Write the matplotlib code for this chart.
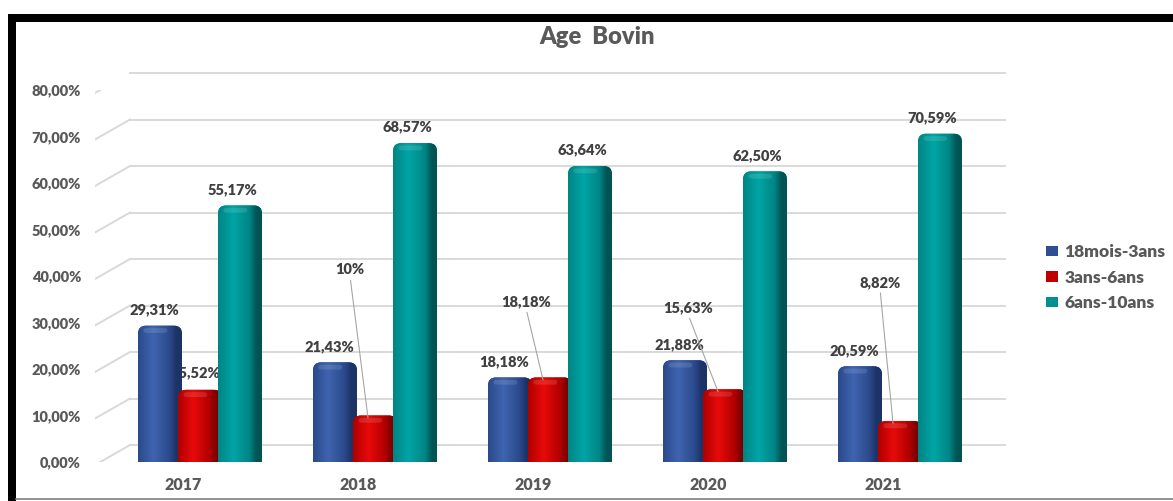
import numpy as np
import matplotlib
matplotlib.use("Agg")
import matplotlib.pyplot as plt
import matplotlib.transforms as mtransforms
from matplotlib.patches import FancyBboxPatch, Patch, Rectangle
from matplotlib.colors import LinearSegmentedColormap

plt.rcParams['font.family'] = ['Lato', 'DejaVu Sans']

# data
years = ["2017", "2018", "2019", "2020", "2021"]
series = ["18mois-3ans", "3ans-6ans", "6ans-10ans"]
age_18m_3 = [29.31, 21.43, 18.18, 21.88, 20.59]
age_3_6 = [15.52, 10.0, 18.18, 15.63, 8.82]
age_6_10 = [55.17, 68.57, 63.64, 62.50, 70.59]
labels_18m_3 = ["29,31%", "21,43%", "18,18%", "21,88%", "20,59%"]
labels_3_6 = ["15,52%", "10%", "18,18%", "15,63%", "8,82%"]
labels_6_10 = ["55,17%", "68,57%", "63,64%", "62,50%", "70,59%"]
yticks = [0, 10, 20, 30, 40, 50, 60, 70, 80]

# colours: (edge, highlight, dark side)
shades = [("#2b4a8c", "#3f64b0", "#1c3366"),
          ("#b00000", "#e80a0a", "#7a0000"),
          ("#008585", "#00a5a5", "#005454")]
legend_cols = ["#2f4f93", "#c00000", "#009090"]
WEIGHT = "heavy"

W, H = 1173, 501
fig = plt.figure(figsize=(W / 100, H / 100), dpi=100)
fig.patch.set_facecolor("white")

# axes placed in pixels: data 0 at y=462, 80 at y=90
ax_l, ax_r, ax_b, ax_t = 95, 1005, 462, 90
ax = fig.add_axes([ax_l / W, (H - ax_b) / H, (ax_r - ax_l) / W, (ax_b - ax_t) / H])
ax.set_xlim(-0.6, 4.6)
ax.set_ylim(0, 80)
for s in ax.spines.values():
    s.set_visible(False)
ax.set_xticks([])
ax.set_yticks(yticks)
ax.set_yticklabels([f"{v},00%" for v in yticks])
ax.tick_params(axis="y", length=0, pad=10, labelsize=10.5, labelcolor="#595959")
for lbl in ax.get_yticklabels():
    lbl.set_fontweight(WEIGHT)

# pseudo-3D gridlines (back wall + slanted floor edge)
depth_x = 35 / (ax_r - ax_l)
back = mtransforms.offset_copy(ax.get_yaxis_transform(), fig=fig, x=0, y=17, units="dots")
front = mtransforms.offset_copy(ax.get_yaxis_transform(), fig=fig, x=0, y=-3, units="dots")
for v in yticks:
    ax.plot([depth_x, 1.0], [v, v], transform=back, color="#d9d9d9", lw=1.4,
            clip_on=False, zorder=0.5)
    p0 = front.transform((0, v))
    p1 = back.transform((depth_x, v))
    ax.add_line(plt.Line2D([p0[0], p1[0]], [p0[1], p1[1]], transform=None,
                           color="#d9d9d9", lw=1.4, zorder=0.5))

x = np.arange(len(years))
bar_w = 44 / 175
step = 40 / 175
offsets = [-step, 0, step]
values = [age_18m_3, age_3_6, age_6_10]

grad_pos = [0.0, 0.35, 0.72, 0.88, 1.0]
px_per_x = 175.0
px_per_y = (ax_b - ax_t) / 80.0
rx = 8 / px_per_x
ry = 8 / px_per_y

for si, (vals, off) in enumerate(zip(values, offsets)):
    edge, hi, dark = shades[si]
    cmap = LinearSegmentedColormap.from_list(
        f"g{si}", list(zip(grad_pos, [edge, hi, edge, dark, dark])))
    grad = np.linspace(0, 1, 64).reshape(1, -1)
    bars = ax.bar(x + off, vals, width=bar_w, color="none", zorder=2 + si)
    for b in bars:
        bx, bh = b.get_x(), b.get_height()
        patch = FancyBboxPatch((bx, -3), bar_w, bh + 3,
                               boxstyle=f"round,pad=0,rounding_size={rx}",
                               mutation_aspect=ry / rx,
                               facecolor=edge, edgecolor="none", zorder=2 + si)
        ax.add_patch(patch)
        im = ax.imshow(grad, extent=[bx, bx + bar_w, 0, bh + 1], aspect="auto",
                       cmap=cmap, zorder=2 + si, interpolation="bicubic")
        im.set_clip_path(patch)
        # small top highlight
        cap = FancyBboxPatch((bx + bar_w * 0.12, bh - ry * 0.9), bar_w * 0.55, ry * 0.6,
                             boxstyle=f"round,pad=0,rounding_size={rx * 0.4}",
                             mutation_aspect=ry / rx, facecolor="white", alpha=0.12,
                             edgecolor="none", zorder=2 + si)
        ax.add_patch(cap)
        cap.set_clip_path(patch)

ax.set_xlim(-0.6, 4.6)
ax.set_ylim(0, 80)

lab_kw = dict(fontsize=10.5, fontweight=WEIGHT, color="#404040", ha="center", va="center")

# labels above blue and teal bars
for i in range(len(years)):
    ax.annotate(labels_18m_3[i], (x[i] - step, age_18m_3[i]), xytext=(-6, 16),
                textcoords="offset pixels", zorder=10, **lab_kw)
    ax.annotate(labels_6_10[i], (x[i] + step, age_6_10[i]), xytext=(-8, 16),
                textcoords="offset pixels", zorder=10, **lab_kw)

# red labels with leader lines (offsets in pixels from bar top)
red_offsets = [(-5, 17), (-18, 148), (-17, 78), (-30, 84), (-13, 141)]
for i in range(len(years)):
    dx, dy = red_offsets[i]
    if i == 0:
        ax.annotate(labels_3_6[i], (x[i], age_3_6[i]), xytext=(dx, dy),
                    textcoords="offset pixels", zorder=1, **lab_kw)
    else:
        ax.annotate(labels_3_6[i], (x[i] - 0.04, age_3_6[i] - 0.5), xytext=(dx, dy),
                    textcoords="offset pixels", zorder=10,
                    arrowprops=dict(arrowstyle="-", color="#a6a6a6", lw=0.8,
                                    shrinkA=1, shrinkB=0, relpos=(0.5, 0.0)),
                    **lab_kw)

# category labels
cat_tr = mtransforms.offset_copy(ax.transData, fig=fig, x=-17, y=-23, units="dots")
for i, yr in enumerate(years):
    ax.text(x[i], 0, yr, transform=cat_tr, ha="center", va="center",
            fontsize=11.5, fontweight=WEIGHT, color="#595959", clip_on=False)

# title
fig.text(597 / W, 1 - 37 / H, "Age  Bovin", ha="center", va="center",
         fontsize=17, fontweight=WEIGHT, color="#595959")

# legend
handles = [Patch(facecolor=c, edgecolor="none") for c in legend_cols]
leg = fig.legend(handles, series, loc="upper left",
                 bbox_to_anchor=(1046 / W, 1 - 244 / H), frameon=False,
                 handlelength=0.7, handleheight=0.55, handletextpad=0.35,
                 labelspacing=0.55, borderaxespad=0, borderpad=0,
                 prop=dict(size=12.5, weight=WEIGHT))
for t in leg.get_texts():
    t.set_color("#595959")

# frame: thick black top/left, thin grey bottom
fig.add_artist(Rectangle((8 / W, 1 - 22 / H), 1 - 8 / W, 8 / H, transform=fig.transFigure,
                         facecolor="black", edgecolor="none"))
fig.add_artist(Rectangle((8 / W, 0), 8 / W, 1 - 14 / H, transform=fig.transFigure,
                         facecolor="black", edgecolor="none"))
fig.add_artist(plt.Line2D([16 / W, 1], [2 / H, 2 / H], transform=fig.transFigure,
                          color="#7f7f7f", lw=1.2))

fig.savefig("out.png", dpi=100)
